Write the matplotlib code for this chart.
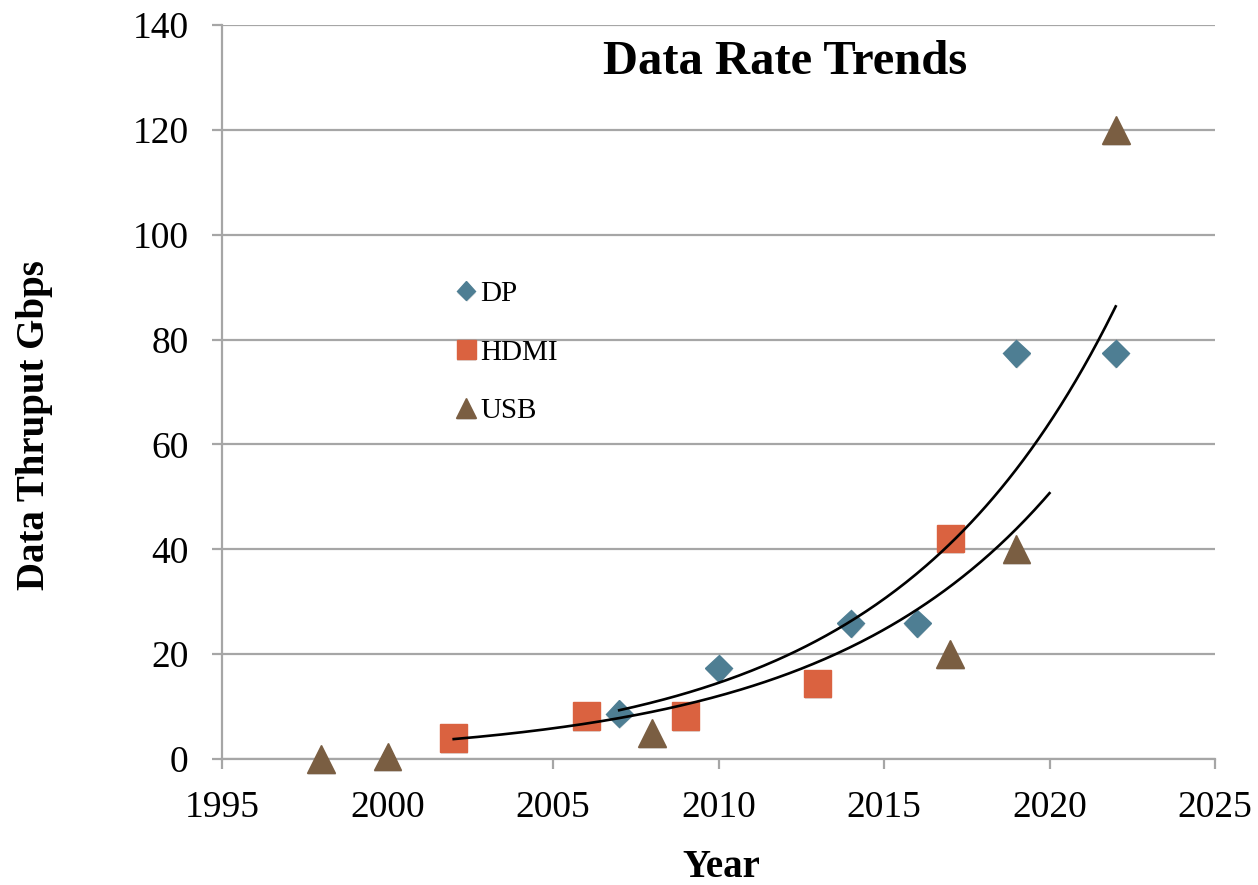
import numpy as np
import matplotlib
matplotlib.use("Agg")
import matplotlib.pyplot as plt
import matplotlib.patheffects as pe

# ---- data ----
dp_years = [2007, 2010, 2014, 2016, 2019, 2022]
dp_vals = [8.64, 17.28, 25.92, 25.92, 77.37, 77.37]
hdmi_years = [2002, 2006, 2009, 2013, 2017]
hdmi_vals = [4.0, 8.2, 8.2, 14.4, 42.0]
usb_years = [1998, 2000, 2008, 2017, 2019, 2022]
usb_vals = [0.012, 0.48, 5.0, 20.0, 40.0, 120.0]
dp_fit_range = (2007, 2022)
hdmi_fit_range = (2002, 2020)
x_ticks = [1995, 2000, 2005, 2010, 2015, 2020, 2025]
y_ticks = [0, 20, 40, 60, 80, 100, 120, 140]

plt.rcParams['font.family'] = ['Liberation Serif', 'DejaVu Serif']

DP_C = '#4E7E93'
HDMI_C = '#DA6240'
USB_C = '#7A5E42'
GRID_C = '#A6A6A6'

fig = plt.figure(figsize=(12.58, 8.85), dpi=100)
ax = fig.add_axes([222/1258, 1-759/885, (1215-222)/1258, (759-25)/885])

shadow = [pe.SimplePatchShadow(offset=(0.5, -1.5), shadow_rgbFace='#999999', alpha=0.3), pe.Normal()]

ax.plot(dp_years, dp_vals, linestyle='none', marker='D', ms=13.7, color=DP_C,
        mec=DP_C, label='DP', zorder=3, path_effects=shadow, clip_on=False)
ax.plot(hdmi_years, hdmi_vals, linestyle='none', marker='s', ms=19.5, color=HDMI_C,
        mec=HDMI_C, label='HDMI', zorder=3, path_effects=shadow, clip_on=False)
ax.plot(usb_years, usb_vals, linestyle='none', marker='^', ms=20, color=USB_C,
        mec=USB_C, label='USB', zorder=3, path_effects=shadow, clip_on=False)

# exponential trend lines (least squares fit on log values)
for yrs, vals, rng in [(dp_years, dp_vals, dp_fit_range), (hdmi_years, hdmi_vals, hdmi_fit_range)]:
    b, a = np.polyfit(np.array(yrs, float), np.log(vals), 1)
    xx = np.linspace(rng[0], rng[1], 200)
    ax.plot(xx, np.exp(a + b * xx), color='black', lw=1.9, zorder=4)

ax.set_xlim(1995, 2025)
ax.set_ylim(0, 140)
ax.set_xticks(x_ticks)
ax.set_yticks(y_ticks)
ax.yaxis.grid(True, color=GRID_C, lw=1.6)
ax.set_axisbelow(True)
for s in ['top', 'right']:
    ax.spines[s].set_visible(False)
for s in ['left', 'bottom']:
    ax.spines[s].set_color(GRID_C)
    ax.spines[s].set_linewidth(1.6)
ax.tick_params(axis='y', direction='out', length=7, width=1.6, color=GRID_C,
               labelsize=27, pad=17)
ax.tick_params(axis='x', direction='out', length=7, width=1.6, color=GRID_C,
               labelsize=27, pad=16)

leg = ax.legend(loc='center left', bbox_to_anchor=(0.234, 0.554), frameon=False,
                fontsize=21, markerscale=0.7, handlelength=0.8, handletextpad=0.1,
                labelspacing=1.1, borderpad=0, borderaxespad=0)

ax.text(0.567, (759-74)/734, 'Data Rate Trends', transform=ax.transAxes,
        ha='center', va='baseline', fontsize=35, fontweight='bold')
fig.text(721.7/1258, 1-877/885, 'Year', ha='center', va='baseline',
         fontsize=28, fontweight='bold')
fig.text(35/1258, 1-425/885, 'Data Thruput Gbps', ha='center', va='center',
         rotation=90, fontsize=28, fontweight='bold')

fig.savefig('out.png', dpi=100, facecolor='white')
